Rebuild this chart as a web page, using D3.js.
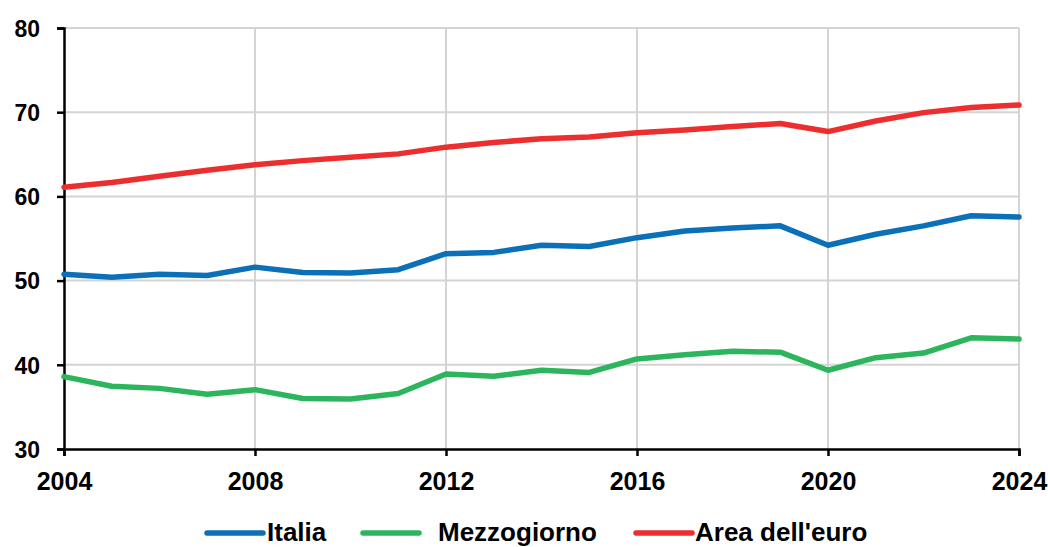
<!DOCTYPE html>
<html>
<head>
<meta charset="utf-8">
<script src="https://cdn.jsdelivr.net/npm/d3@7"></script>
<style>
  body { margin: 0; background: #fff; }
  text { font-family: "Liberation Sans", Arial, sans-serif; font-weight: bold; fill: #000; }
</style>
</head>
<body>
<div id="chart"></div>
<script>
var years = d3.range(2004, 2025);
var italia = [50.75, 50.4, 50.75, 50.6, 51.6, 50.95, 50.9, 51.3, 53.2, 53.35, 54.2, 54.05, 55.1, 55.9, 56.25, 56.5, 54.2, 55.5, 56.5, 57.7, 57.55];
var mezzogiorno = [38.6, 37.45, 37.2, 36.5, 37.05, 36.0, 35.95, 36.6, 38.9, 38.65, 39.35, 39.1, 40.7, 41.2, 41.6, 41.5, 39.35, 40.85, 41.4, 43.2, 43.05];
var areaEuro = [61.1, 61.65, 62.4, 63.1, 63.75, 64.25, 64.65, 65.05, 65.85, 66.4, 66.85, 67.05, 67.55, 67.9, 68.3, 68.65, 67.7, 68.95, 69.95, 70.55, 70.85];
var seriesNames = ["Italia", "Mezzogiorno", "Area dell'euro"];
var seriesColors = ["#0b70b8", "#2db55d", "#ed2e2e"];
var xTicks = [2004, 2008, 2012, 2016, 2020, 2024];
var yTicks = [30, 40, 50, 60, 70, 80];

var width = 1048, height = 547;
var margin = {left: 64, right: 29, top: 28, bottom: 98};

var svg = d3.select("#chart").append("svg")
    .attr("width", width)
    .attr("height", height);

var x = d3.scaleLinear().domain([2004, 2024]).range([margin.left, width - margin.right]);
var y = d3.scaleLinear().domain([30, 80]).range([height - margin.bottom, margin.top]);

// grid
svg.append("g").selectAll("line")
    .data(yTicks.slice(1))
    .enter().append("line")
    .attr("x1", x(2004)).attr("x2", x(2024))
    .attr("y1", d => y(d)).attr("y2", d => y(d))
    .style("stroke", "#d4d4d4").style("stroke-width", 2);

svg.append("g").selectAll("line")
    .data(xTicks.slice(1))
    .enter().append("line")
    .attr("x1", d => x(d)).attr("x2", d => x(d))
    .attr("y1", y(30)).attr("y2", y(80))
    .style("stroke", "#d4d4d4").style("stroke-width", 2);

// axes
var yAxis = svg.append("g")
    .attr("transform", "translate(" + margin.left + ",0)")
    .call(d3.axisLeft(y).tickValues(yTicks).tickSize(7).tickPadding(17));
var xAxis = svg.append("g")
    .attr("transform", "translate(0," + y(30) + ")")
    .call(d3.axisBottom(x).tickValues(xTicks).tickSize(7).tickPadding(16).tickFormat(d3.format("d")));

[yAxis, xAxis].forEach(function (a) {
    a.select(".domain").style("stroke", "#000").style("stroke-width", 2.5);
    a.selectAll(".tick line").style("stroke", "#000").style("stroke-width", 2.5);
    a.selectAll(".tick text").style("font-family", "Liberation Sans, Arial, sans-serif").style("font-weight", "bold");
});
yAxis.selectAll(".tick text").style("font-size", "23px").attr("dy", "0.36em");
xAxis.selectAll(".tick text").style("font-size", "25px");

// lines
var allSeries = [italia, mezzogiorno, areaEuro];
var line = d3.line()
    .x((d, i) => x(years[i]))
    .y(d => y(d));

svg.append("g").selectAll("path")
    .data(allSeries)
    .enter().append("path")
    .attr("d", line)
    .style("fill", "none")
    .style("stroke", (d, i) => seriesColors[i])
    .style("stroke-width", 5.5)
    .style("stroke-linejoin", "round")
    .style("stroke-linecap", "round");

// legend
var legendX = [207, 363, 636];
var legendTextX = [267, 438, 695];
var legend = svg.append("g");
seriesNames.forEach(function (name, i) {
    legend.append("line")
        .attr("x1", legendX[i]).attr("x2", legendX[i] + 56)
        .attr("y1", 533).attr("y2", 533)
        .style("stroke", seriesColors[i])
        .style("stroke-width", 5.5)
        .style("stroke-linecap", "round");
    legend.append("text")
        .attr("x", legendTextX[i])
        .attr("y", 541)
        .style("font-size", "26px")
        .text(name);
});
</script>
</body>
</html>
